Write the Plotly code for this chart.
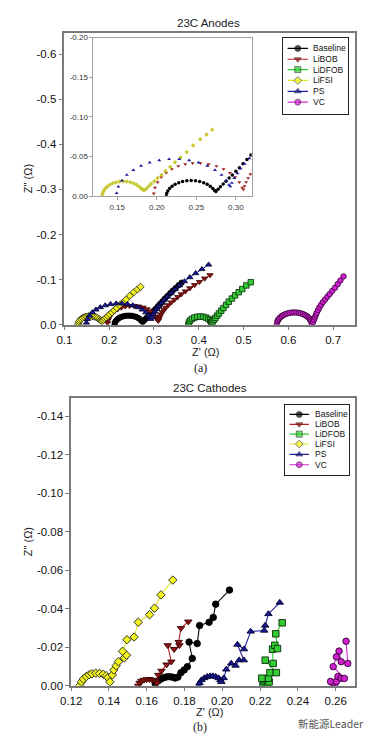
import plotly.graph_objects as go

W, H = 373, 746

series_names = ["Baseline", "LiBOB", "LiDFOB", "LiFSI", "PS", "VC"]

# ---------------- Anode (23C) data : Z' and Z'' (ohm) ----------------
anode_baseline_x = [0.212, 0.2125, 0.2139, 0.2162, 0.2194, 0.2232, 0.2278, 0.2327, 0.2380, 0.2435, 0.2490, 0.2543,
                    0.2593, 0.2637, 0.2676, 0.2708, 0.2731, 0.2748, 0.2775, 0.2805, 0.2840, 0.2875, 0.2915, 0.2955,
                    0.3000, 0.3045, 0.3090, 0.3140, 0.3190, 0.3245, 0.3300, 0.3360, 0.3420, 0.3485, 0.3550, 0.3615]
anode_baseline_y = [0.0, -0.0035, -0.0068, -0.0100, -0.0129, -0.0153, -0.0173, -0.0188, -0.0197, -0.0200, -0.0197,
                    -0.0188, -0.0173, -0.0153, -0.0129, -0.0100, -0.0075, -0.0062, -0.0090, -0.0120, -0.0155, -0.0190,
                    -0.0230, -0.0270, -0.0315, -0.0360, -0.0410, -0.0465, -0.0520, -0.0578, -0.0635, -0.0695, -0.0755,
                    -0.0815, -0.0875, -0.0930]

anode_libob_x = [0.1962, 0.1978, 0.2011, 0.2058, 0.2118, 0.2190, 0.2272, 0.2360, 0.2453, 0.2552, 0.2655, 0.2754,
                 0.2844, 0.2924, 0.2991, 0.3044, 0.3080, 0.3095, 0.3110, 0.3130, 0.3155, 0.3185, 0.3220, 0.3265,
                 0.3320, 0.3385, 0.3455, 0.3530, 0.3610, 0.3700, 0.3800, 0.3905, 0.4015, 0.4130, 0.4250]
anode_libob_y = [-0.0037, -0.0109, -0.0178, -0.0241, -0.0297, -0.0344, -0.0381, -0.0406, -0.0418, -0.0418, -0.0406,
                 -0.0381, -0.0344, -0.0297, -0.0241, -0.0178, -0.0109, -0.0088, -0.0130, -0.0180, -0.0230, -0.0280,
                 -0.0330, -0.0380, -0.0435, -0.0495, -0.0555, -0.0615, -0.0675, -0.0740, -0.0810, -0.0880, -0.0950,
                 -0.1025, -0.1100]

anode_lidfob_x = [0.377, 0.3779, 0.3805, 0.3846, 0.3900, 0.3963, 0.4030, 0.4097, 0.4160, 0.4214, 0.4255, 0.4280,
                  0.4290, 0.4310, 0.4340, 0.4370, 0.4410, 0.4450, 0.4500, 0.4550, 0.4610, 0.4670, 0.4740, 0.4810,
                  0.4890, 0.4970, 0.5060, 0.5160]
anode_lidfob_y = [0.0, -0.0047, -0.0090, -0.0127, -0.0156, -0.0174, -0.0180, -0.0174, -0.0156, -0.0127, -0.0090,
                  -0.0055, -0.0040, -0.0070, -0.0110, -0.0150, -0.0200, -0.0250, -0.0310, -0.0370, -0.0440, -0.0510,
                  -0.0580, -0.0650, -0.0720, -0.0790, -0.0870, -0.0940]

anode_lifsi_x = [0.1310, 0.1314, 0.1326, 0.1346, 0.1372, 0.1405, 0.1443, 0.1484, 0.1529, 0.1575, 0.1621, 0.1666,
                 0.1708, 0.1745, 0.1778, 0.1804, 0.1824, 0.1840, 0.1870, 0.1900, 0.1930, 0.1970, 0.2010, 0.2060,
                 0.2110, 0.2170, 0.2230, 0.2300, 0.2380, 0.2460, 0.2550, 0.2630, 0.2700]
anode_lifsi_y = [0.0, -0.0033, -0.0065, -0.0095, -0.0122, -0.0146, -0.0165, -0.0179, -0.0187, -0.0190, -0.0187,
                 -0.0179, -0.0165, -0.0146, -0.0122, -0.0100, -0.0085, -0.0078, -0.0100, -0.0130, -0.0160, -0.0190,
                 -0.0230, -0.0270, -0.0320, -0.0370, -0.0430, -0.0490, -0.0560, -0.0640, -0.0720, -0.0780, -0.0840]

anode_ps_x = [0.1493, 0.1515, 0.1559, 0.1622, 0.1704, 0.1801, 0.1911, 0.2031, 0.2156, 0.2284, 0.2409, 0.2529,
              0.2639, 0.2736, 0.2818, 0.2881, 0.2914, 0.2930, 0.2950, 0.2980, 0.3020, 0.3060, 0.3110, 0.3170,
              0.3230, 0.3300, 0.3380, 0.3470, 0.3570, 0.3680, 0.3800, 0.3930, 0.4070, 0.4220]
anode_ps_y = [-0.0041, -0.0122, -0.0199, -0.0270, -0.0332, -0.0385, -0.0426, -0.0454, -0.0468, -0.0468, -0.0454,
              -0.0426, -0.0385, -0.0332, -0.0270, -0.0199, -0.0145, -0.0125, -0.0170, -0.0230, -0.0290, -0.0350,
              -0.0410, -0.0480, -0.0550, -0.0620, -0.0700, -0.0780, -0.0870, -0.0960, -0.1050, -0.1140, -0.1230,
              -0.1330]

anode_vc_x = [0.5740, 0.5753, 0.5770, 0.5792, 0.5820, 0.5854, 0.5892, 0.5935, 0.5980, 0.6029, 0.6080, 0.6130,
              0.6180, 0.6231, 0.6280, 0.6325, 0.6368, 0.6406, 0.6440, 0.6468, 0.6490, 0.6507, 0.6520, 0.6550,
              0.6570, 0.6590, 0.6610, 0.6630, 0.6660, 0.6690, 0.6730, 0.6770, 0.6820, 0.6870, 0.6920, 0.6980,
              0.7040, 0.7100, 0.7160, 0.7230]
anode_vc_y = [0.0, -0.0070, -0.0103, -0.0135, -0.0164, -0.0191, -0.0214, -0.0234, -0.0249, -0.0261, -0.0268,
              -0.0270, -0.0268, -0.0261, -0.0249, -0.0234, -0.0214, -0.0191, -0.0164, -0.0135, -0.0103, -0.0070,
              -0.0020, -0.0060, -0.0110, -0.0160, -0.0210, -0.0260, -0.0320, -0.0380, -0.0440, -0.0500, -0.0560,
              -0.0620, -0.0680, -0.0750, -0.0820, -0.0900, -0.0980, -0.1070]

# ---------------- Cathode (23C) data ----------------
cathode_baseline_x = [0.1645, 0.1660, 0.1675, 0.1690, 0.1705, 0.1720, 0.1735, 0.1750, 0.1765, 0.1781, 0.1798,
                      0.1815, 0.1841, 0.1824, 0.1867, 0.1880, 0.1930, 0.1952, 0.1965, 0.2038]
cathode_baseline_y = [-0.0010, -0.0025, -0.0035, -0.0042, -0.0046, -0.0047, -0.0045, -0.0040, -0.0045, -0.0068,
                      -0.0082, -0.0099, -0.0142, -0.0227, -0.0219, -0.0313, -0.0330, -0.0355, -0.0424, -0.0497]

cathode_libob_x = [0.1555, 0.1562, 0.1572, 0.1585, 0.1600, 0.1615, 0.1630, 0.1645, 0.1655, 0.1661, 0.1678,
                   0.1705, 0.1730, 0.1711, 0.1745, 0.1773, 0.1769, 0.1781, 0.1820]
cathode_libob_y = [0.0, -0.0015, -0.0025, -0.0030, -0.0033, -0.0034, -0.0030, -0.0022, -0.0015, -0.0056, -0.0077,
                   -0.0110, -0.0125, -0.0210, -0.0190, -0.0210, -0.0227, -0.0299, -0.0333]

cathode_lidfob_x = [0.2215, 0.2222, 0.2232, 0.2240, 0.2248, 0.2244, 0.2209, 0.2252, 0.2286, 0.2227, 0.2269,
                    0.2266, 0.2278, 0.2292, 0.2283, 0.2317]
cathode_lidfob_y = [0.0, -0.0010, -0.0015, -0.0010, -0.0020, -0.0039, -0.0039, -0.0068, -0.0068, -0.0133, -0.0116,
                    -0.0190, -0.0210, -0.0193, -0.0270, -0.0327]

cathode_lifsi_x = [0.1245, 0.1255, 0.1265, 0.1280, 0.1295, 0.1310, 0.1330, 0.1350, 0.1370, 0.1385, 0.1395,
                   0.1405, 0.1418, 0.1426, 0.1438, 0.1450, 0.1481, 0.1493, 0.1472, 0.1495, 0.1533, 0.1555, 0.1615,
                   0.1641, 0.1675, 0.1738]
cathode_lifsi_y = [0.0, -0.0020, -0.0035, -0.0048, -0.0057, -0.0062, -0.0065, -0.0064, -0.0060, -0.0052, -0.0042,
                   -0.0020, -0.0056, -0.0082, -0.0104, -0.0125, -0.0145, -0.0159, -0.0179, -0.0239, -0.0253, -0.0330,
                   -0.0369, -0.0403, -0.0472, -0.0549]

cathode_ps_x = [0.1875, 0.1880, 0.1890, 0.1905, 0.1920, 0.1935, 0.1950, 0.1965, 0.1980, 0.1990, 0.1995, 0.2008,
                0.2021, 0.2047, 0.2070, 0.2089, 0.2114, 0.2080, 0.2115, 0.2150, 0.2222, 0.2227, 0.2244, 0.2304]
cathode_ps_y = [0.0, -0.0015, -0.0030, -0.0040, -0.0047, -0.0050, -0.0050, -0.0047, -0.0040, -0.0030, -0.0020,
                -0.0040, -0.0085, -0.0116, -0.0105, -0.0133, -0.0133, -0.0214, -0.0190, -0.0282, -0.0287, -0.0313,
                -0.0373, -0.0432]

cathode_vc_x = [0.2595, 0.2585, 0.2573, 0.2604, 0.2612, 0.2629, 0.2646, 0.2587, 0.2604, 0.2618, 0.2629, 0.2664,
                0.2655]
cathode_vc_y = [0.0, -0.0015, -0.0022, -0.0022, -0.0048, -0.0039, -0.0038, -0.0099, -0.0150, -0.0180, -0.0125,
                -0.0116, -0.0231]

# ---------------- ticks ----------------
anode_x_ticks = [0.1, 0.2, 0.3, 0.4, 0.5, 0.6, 0.7]
anode_x_ticktext = ["0.1", "0.2", "0.3", "0.4", "0.5", "0.6", "0.7"]
anode_y_ticks = [0.0, -0.1, -0.2, -0.3, -0.4, -0.5, -0.6]
anode_y_ticktext = ["0.0", "-0.1", "-0.2", "-0.3", "-0.4", "-0.5", "-0.6"]
inset_x_ticks = [0.15, 0.20, 0.25, 0.30]
inset_x_ticktext = ["0.15", "0.20", "0.25", "0.30"]
inset_y_ticks = [0.0, -0.05, -0.10, -0.15, -0.20]
inset_y_ticktext = ["0.00", "-0.05", "-0.10", "-0.15", "-0.20"]
cath_x_ticks = [0.12, 0.14, 0.16, 0.18, 0.20, 0.22, 0.24, 0.26]
cath_x_ticktext = ["0.12", "0.14", "0.16", "0.18", "0.20", "0.22", "0.24", "0.26"]
cath_y_ticks = [0.0, -0.02, -0.04, -0.06, -0.08, -0.10, -0.12, -0.14]
cath_y_ticktext = ["0.00", "-0.02", "-0.04", "-0.06", "-0.08", "-0.10", "-0.12", "-0.14"]

anode_data = [(anode_baseline_x, anode_baseline_y), (anode_libob_x, anode_libob_y),
              (anode_lidfob_x, anode_lidfob_y), (anode_lifsi_x, anode_lifsi_y),
              (anode_ps_x, anode_ps_y), (anode_vc_x, anode_vc_y)]
cathode_data = [(cathode_baseline_x, cathode_baseline_y), (cathode_libob_x, cathode_libob_y),
                (cathode_lidfob_x, cathode_lidfob_y), (cathode_lifsi_x, cathode_lifsi_y),
                (cathode_ps_x, cathode_ps_y), (cathode_vc_x, cathode_vc_y)]

# ---------------- styles ----------------
line_colors = ["#000000", "#B52020", "#2ECC2E", "#E6E62A", "#1E1EA0", "#D22CD2"]
fill_colors = ["#000000", "#8E1414", "#33CC33", "#F2F21E", "#18188E", "#D020D0"]
edge_colors = ["#000000", "#3A0000", "#0A2A0A", "#202020", "#000030", "#300030"]
inset_colors = ["#000000", "#A01E1E", "#2ECC2E", "#C8C832", "#1E1EA0", "#D22CD2"]
symbols = ["circle", "triangle-down", "square", "diamond", "triangle-up", "circle"]

FONT = "Liberation Sans, Arial, sans-serif"
FRAME = "#7a7a7a"

fig = go.Figure()

# main anode plot
for i, (xs, ys) in enumerate(anode_data):
    fig.add_trace(go.Scatter(
        x=xs, y=ys, mode="lines+markers", name=series_names[i], showlegend=False,
        xaxis="x", yaxis="y",
        line=dict(color=line_colors[i], width=1),
        marker=dict(symbol=symbols[i], size=5.5, color=fill_colors[i],
                    line=dict(color=edge_colors[i], width=0.8))))

# inset (zoom of the anode plot)
for i, (xs, ys) in enumerate(anode_data):
    fig.add_trace(go.Scatter(
        x=xs, y=ys, mode="markers", name=series_names[i], showlegend=False,
        xaxis="x2", yaxis="y2", cliponaxis=True,
        marker=dict(symbol=symbols[i], size=3.5, color=inset_colors[i], line=dict(width=0))))

# cathode plot
for i, (xs, ys) in enumerate(cathode_data):
    fig.add_trace(go.Scatter(
        x=xs, y=ys, mode="lines+markers", name=series_names[i], showlegend=False,
        xaxis="x3", yaxis="y3",
        line=dict(color=line_colors[i], width=1.1),
        marker=dict(symbol=symbols[i], size=6.5, color=fill_colors[i],
                    line=dict(color=edge_colors[i], width=0.9))))

# manual legends (compact rows) drawn on small pixel-scaled axes
legend_specs = [
    dict(xa="x4", ya="y4", xr=[280, 347], yr=[111, 34], rows=[45, 56, 66.5, 77.5, 88.5, 99.5],
         lx=[285, 306], mx=295.5, tx=309),
    dict(xa="x5", ya="y5", xr=[282, 348], yr=[477, 406], rows=[416, 426, 436, 446, 456.5, 467],
         lx=[287, 307], mx=297, tx=311),
]
annotations = []
for spec in legend_specs:
    for i, name in enumerate(series_names):
        ry = spec["rows"][i]
        fig.add_trace(go.Scatter(
            x=[spec["lx"][0], spec["mx"], spec["lx"][1]], y=[ry, ry, ry],
            mode="lines+markers", showlegend=False, hoverinfo="skip",
            xaxis=spec["xa"], yaxis=spec["ya"],
            line=dict(color=line_colors[i], width=1.2),
            marker=dict(symbol=symbols[i], size=[0, 6, 0], color=fill_colors[i],
                        line=dict(color=edge_colors[i], width=0.8))))
        annotations.append(dict(x=spec["tx"], y=ry, xref=spec["xa"], yref=spec["ya"], text=name,
                                showarrow=False, xanchor="left", yanchor="middle",
                                font=dict(family=FONT, size=8.5, color="#111111")))


def px_x(p):
    return p / W


def px_y(p):
    return 1 - p / H


main_axis = dict(showline=True, mirror=True, linecolor=FRAME, linewidth=1.5, ticks="outside",
                 ticklen=4, tickwidth=1, tickcolor=FRAME, showgrid=False, zeroline=False,
                 tickfont=dict(family=FONT, size=11.5, color="#111111"))
inset_axis = dict(showline=True, mirror=True, linecolor="#a0a0a0", linewidth=1, ticks="outside",
                  ticklen=3, tickwidth=1, tickcolor="#a0a0a0", showgrid=False, zeroline=False,
                  tickfont=dict(family=FONT, size=8, color="#333333"))
legend_axis = dict(showline=True, mirror=True, linecolor="#222222", linewidth=1, ticks="",
                   showticklabels=False, showgrid=False, zeroline=False, fixedrange=True)

fig.update_layout(
    width=W, height=H, margin=dict(l=0, r=0, t=0, b=0),
    paper_bgcolor="white", plot_bgcolor="white", showlegend=False,
    xaxis=dict(main_axis, domain=[px_x(55), px_x(354)], range=[0.1, 0.7476], anchor="y",
               tickvals=anode_x_ticks, ticktext=anode_x_ticktext),
    yaxis=dict(main_axis, domain=[px_y(325), px_y(29)], range=[0.0, -0.648], anchor="x",
               tickvals=anode_y_ticks, ticktext=anode_y_ticktext),
    xaxis2=dict(inset_axis, domain=[px_x(85), px_x(248)], range=[0.12, 0.32], anchor="y2",
                tickvals=inset_x_ticks, ticktext=inset_x_ticktext),
    yaxis2=dict(inset_axis, domain=[px_y(195), px_y(34)], range=[0.0, -0.20], anchor="x2",
                tickvals=inset_y_ticks, ticktext=inset_y_ticktext),
    xaxis3=dict(main_axis, domain=[px_x(62), px_x(354)], range=[0.12, 0.27], anchor="y3",
                tickvals=cath_x_ticks, ticktext=cath_x_ticktext),
    yaxis3=dict(main_axis, domain=[px_y(691), px_y(399)], range=[0.0, -0.1497], anchor="x3",
                tickvals=cath_y_ticks, ticktext=cath_y_ticktext),
    xaxis4=dict(legend_axis, domain=[px_x(280), px_x(347)], range=legend_specs[0]["xr"], anchor="y4"),
    yaxis4=dict(legend_axis, domain=[px_y(111), px_y(34)], range=legend_specs[0]["yr"], anchor="x4"),
    xaxis5=dict(legend_axis, domain=[px_x(282), px_x(348)], range=legend_specs[1]["xr"], anchor="y5"),
    yaxis5=dict(legend_axis, domain=[px_y(477), px_y(406)], range=legend_specs[1]["yr"], anchor="x5"),
)

text_items = [
    ("23C Anodes", 204, 19, 11.5, FONT, "#222222", 0),
    ("Z' (\u03a9)", 200, 353, 11, FONT, "#222222", 0),
    ('Z" (\u03a9)', 17, 177, 11, FONT, "#222222", -90),
    ("(a)", 195, 369, 12, "Liberation Serif, Times New Roman, serif", "#222222", 0),
    ("23C Cathodes", 205, 389, 11.5, FONT, "#222222", 0),
    ("Z' (\u03a9)", 205, 718, 11, FONT, "#222222", 0),
    ('Z" (\u03a9)', 17, 545, 11, FONT, "#222222", -90),
    ("(b)", 195, 733, 12, "Liberation Serif, Times New Roman, serif", "#222222", 0),
    ("新能源Leader", 330, 729, 10.5, "Noto Sans CJK SC, sans-serif", "#555555", 0),
]
for txt, x, y, size, fam, col, ang in text_items:
    annotations.append(dict(x=px_x(x), y=px_y(y), xref="paper", yref="paper", text=txt, showarrow=False,
                            xanchor="center", yanchor="middle", textangle=ang,
                            font=dict(family=fam, size=size, color=col)))

fig.update_layout(annotations=annotations)

fig.write_html("out.html", config={"displayModeBar": False},
               post_script="document.body.style.margin='0';document.body.style.padding='0';"
                           "document.body.style.overflow='hidden';")
